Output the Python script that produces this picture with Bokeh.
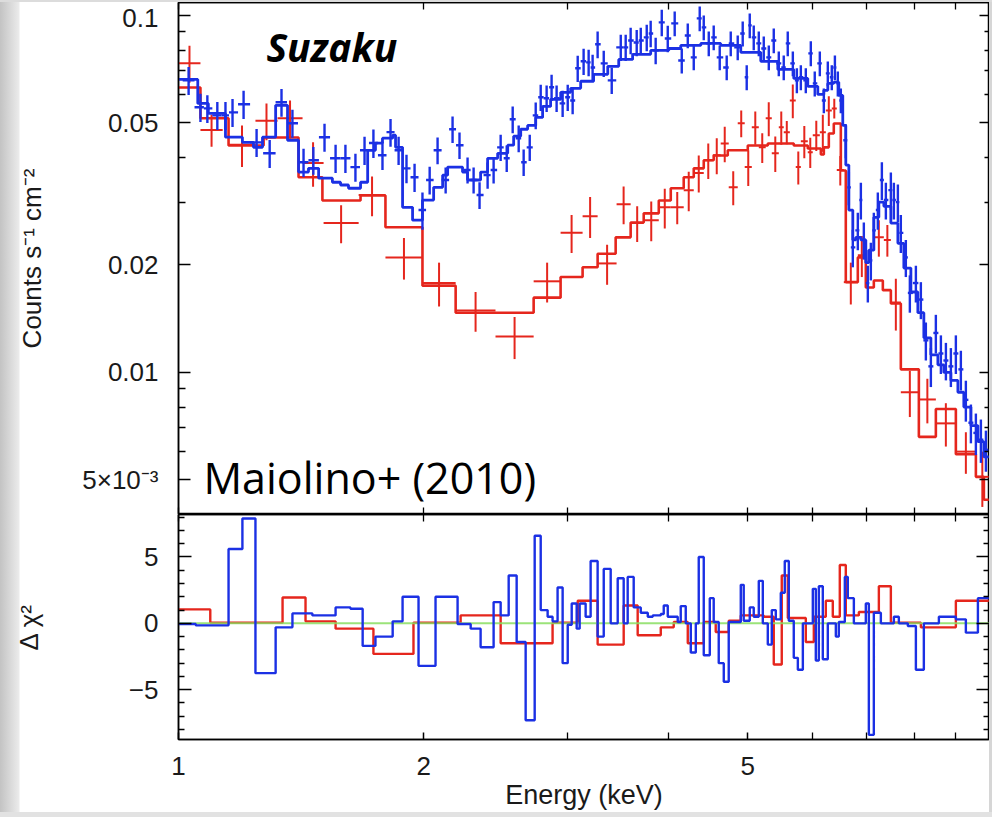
import numpy as np
from bokeh.plotting import figure
from bokeh.models import (Range1d, FixedTicker, LinearAxis, LogAxis, Label,
                          CustomLabelingPolicy)
from bokeh.layouts import column
from bokeh.embed import file_html
from bokeh.resources import INLINE

# ---------------- spectrum data (counts s^-1 cm^-2) ----------------
# XIS-1 (back-illuminated) points: bin edges (keV), flux and 1-sigma error
red_e_lo = [1.000, 1.064, 1.152, 1.243, 1.323, 1.420, 1.507, 1.664, 1.795, 1.993,
            2.189, 2.450, 2.729, 2.945, 3.134, 3.270, 3.450, 3.590, 3.725, 3.887,
            4.021, 4.171, 4.291, 4.414, 4.528, 4.631, 4.737, 4.859, 4.956, 5.056,
            5.157, 5.259, 5.350, 5.457, 5.534, 5.630, 5.725, 5.808, 5.923, 6.007,
            6.128, 6.233, 6.339, 6.429, 6.558, 6.823, 7.139, 7.344, 7.491, 7.705,
            8.108, 8.507, 9.002, 9.526]
red_e_hi = [1.064, 1.133, 1.243, 1.323, 1.420, 1.507, 1.664, 1.795, 1.993, 2.189,
            2.450, 2.729, 2.945, 3.134, 3.270, 3.450, 3.590, 3.725, 3.887, 4.021,
            4.171, 4.291, 4.414, 4.528, 4.631, 4.737, 4.859, 4.956, 5.056, 5.157,
            5.259, 5.350, 5.457, 5.534, 5.630, 5.725, 5.808, 5.923, 6.007, 6.128,
            6.233, 6.339, 6.429, 6.558, 6.823, 6.979, 7.344, 7.491, 7.705, 8.108,
            8.507, 9.002, 9.526, 9.880]
red_flux = [0.0735, 0.0478, 0.0434, 0.0507, 0.0515, 0.0386, 0.0262, 0.0314, 0.0210, 0.0178,
            0.0149, 0.0126, 0.0180, 0.0246, 0.0274, 0.0202, 0.0296, 0.0262, 0.0267, 0.0290,
            0.0290, 0.0324, 0.0362, 0.0393, 0.0406, 0.0438, 0.0330, 0.0499, 0.0376, 0.0486,
            0.0427, 0.0515, 0.0411, 0.0486, 0.0471, 0.0578, 0.0376, 0.0444, 0.0414, 0.0462,
            0.0471, 0.0542, 0.0549, 0.0369, 0.0179, 0.0213, 0.0239, 0.0235, 0.0157, 0.0088,
            0.0084, 0.0072, 0.0060, 0.0051]
red_err = [0.0087, 0.0049, 0.0058, 0.0060, 0.0063, 0.0055, 0.0032, 0.0040, 0.0028, 0.0025,
           0.0019, 0.0017, 0.0023, 0.0030, 0.0036, 0.0026, 0.0036, 0.0030, 0.0034, 0.0037,
           0.0030, 0.0041, 0.0043, 0.0045, 0.0047, 0.0050, 0.0036, 0.0043, 0.0043, 0.0052,
           0.0041, 0.0056, 0.0047, 0.0052, 0.0035, 0.0063, 0.0040, 0.0046, 0.0040, 0.0045,
           0.0056, 0.0052, 0.0035, 0.0035, 0.0024, 0.0028, 0.0028, 0.0024, 0.0026, 0.0013,
           0.0012, 0.0010, 0.0008, 0.0009]

# XIS-FI points: bin centres (keV), flux and 1-sigma error
blue_e = [1.029, 1.064, 1.085, 1.116, 1.142, 1.165, 1.202, 1.247, 1.294, 1.338,
          1.380, 1.424, 1.464, 1.511, 1.559, 1.603, 1.649, 1.692, 1.735, 1.780,
          1.821, 1.863, 1.905, 1.949, 1.993, 2.034,
          2.080, 2.128, 2.170, 2.213, 2.264, 2.303, 2.342, 2.396, 2.437, 2.486,
          2.529, 2.572, 2.616, 2.653, 2.699, 2.745, 2.784, 2.831, 2.871, 2.912,
          2.962, 3.005, 3.047, 3.091, 3.143, 3.188, 3.224, 3.270, 3.327, 3.403,
          3.491, 3.540, 3.590, 3.652, 3.694, 3.757, 3.799, 3.853, 3.920, 3.987,
          4.066, 4.148, 4.219, 4.291, 4.364, 4.414, 4.477, 4.540, 4.618, 4.710,
          4.764, 4.859, 4.928, 4.984, 5.027, 5.084, 5.157, 5.230, 5.305, 5.380,
          5.457, 5.534, 5.597, 5.678, 5.743, 5.808, 5.890, 5.974, 6.041, 6.128,
          6.198, 6.268, 6.339, 6.395, 6.448, 6.503,
          6.595, 6.652, 6.727, 6.823, 6.882, 6.940, 7.019, 7.079, 7.139, 7.220,
          7.303, 7.386, 7.491, 7.555, 7.641, 7.705, 7.815, 7.904, 8.040, 8.154,
          8.270, 8.388, 8.507, 8.629, 8.752, 8.876, 9.002, 9.130, 9.260, 9.393,
          9.526, 9.662, 9.800]
blue_flux = [0.0658, 0.0553, 0.0549, 0.0525, 0.0525, 0.0535, 0.0564, 0.0441, 0.0411, 0.0571,
             0.0499, 0.0388, 0.0393, 0.0456, 0.0398, 0.0398, 0.0376, 0.0419, 0.0439, 0.0406,
             0.0471, 0.0419, 0.0373, 0.0352, 0.0285, 0.0346,
             0.0419, 0.0346, 0.0480, 0.0433, 0.0369, 0.0346, 0.0314, 0.0357, 0.0369, 0.0427,
             0.0398, 0.0512, 0.0453, 0.0388, 0.0427, 0.0525, 0.0590, 0.0586, 0.0629, 0.0586,
             0.0567, 0.0590, 0.0578, 0.0711, 0.0744, 0.0739, 0.0715, 0.0830, 0.0734, 0.0658,
             0.0814, 0.0814, 0.0851, 0.0840, 0.0851, 0.0868, 0.0890, 0.0798, 0.0956, 0.0862,
             0.0950, 0.0748, 0.0879, 0.0763, 0.0981, 0.0926, 0.0835, 0.0868, 0.0763, 0.0715,
             0.0835, 0.0814, 0.0890, 0.0671, 0.0938, 0.0868, 0.0835, 0.0808, 0.0763, 0.0851,
             0.0734, 0.0715, 0.0835, 0.0734, 0.0658, 0.0671, 0.0658, 0.0783, 0.0645, 0.0734,
             0.0578, 0.0688, 0.0671, 0.0715, 0.0645, 0.0578,
             0.0447, 0.0330, 0.0224, 0.0250, 0.0304, 0.0235, 0.0178, 0.0206, 0.0250, 0.0285,
             0.0346, 0.0304, 0.0324, 0.0304, 0.0300, 0.0246, 0.0210, 0.0167, 0.0178, 0.0160,
             0.0123, 0.0104, 0.0129, 0.0113, 0.0108, 0.0104, 0.0113, 0.0102, 0.00838, 0.00723,
             0.00677, 0.00648, 0.00607]
blue_err = [0.0059, 0.0050, 0.0049, 0.0047, 0.0047, 0.0048, 0.0051, 0.0040, 0.0037, 0.0051,
            0.0045, 0.0035, 0.0035, 0.0041, 0.0036, 0.0036, 0.0034, 0.0038, 0.0040, 0.0037,
            0.0042, 0.0038, 0.0034, 0.0032, 0.0034, 0.0031,
            0.0036, 0.0029, 0.0041, 0.0037, 0.0031, 0.0029, 0.0027, 0.0030, 0.0031, 0.0036,
            0.0034, 0.0044, 0.0039, 0.0033, 0.0036, 0.0045, 0.0050, 0.0050, 0.0053, 0.0050,
            0.0048, 0.0050, 0.0049, 0.0060, 0.0063, 0.0063, 0.0061, 0.0071, 0.0062, 0.0056,
            0.0069, 0.0069, 0.0072, 0.0071, 0.0072, 0.0074, 0.0076, 0.0068, 0.0081, 0.0073,
            0.0076, 0.0060, 0.0070, 0.0061, 0.0078, 0.0074, 0.0067, 0.0069, 0.0061, 0.0057,
            0.0067, 0.0065, 0.0071, 0.0054, 0.0075, 0.0069, 0.0067, 0.0065, 0.0061, 0.0068,
            0.0059, 0.0057, 0.0067, 0.0059, 0.0053, 0.0054, 0.0053, 0.0063, 0.0052, 0.0059,
            0.0046, 0.0055, 0.0054, 0.0057, 0.0052, 0.0046,
            0.0049, 0.0036, 0.0027, 0.0030, 0.0036, 0.0028, 0.0021, 0.0025, 0.0030, 0.0034,
            0.0042, 0.0036, 0.0039, 0.0036, 0.0036, 0.0030, 0.0025, 0.0020, 0.0021, 0.0019,
            0.0015, 0.0013, 0.0016, 0.0014, 0.0013, 0.0013, 0.0014, 0.0013, 0.0011, 0.0009,
            0.0009, 0.0009, 0.0008]

# folded best-fit models: histogram edges (keV) and level in each bin
red_model_edges = [1.000, 1.064, 1.152, 1.272, 1.404, 1.502, 1.673, 1.795, 1.993, 2.189,
                   2.450, 2.729, 2.945, 3.134, 3.270, 3.441, 3.590, 3.725, 3.887, 4.021,
                   4.171, 4.291, 4.414, 4.540, 4.724, 4.999, 5.290, 5.488, 5.693, 5.923,
                   6.146, 6.198, 6.286, 6.375, 6.503, 6.595, 6.823, 6.979, 7.139, 7.323,
                   7.491, 7.705, 8.108, 8.507, 9.002, 9.526, 9.744, 9.900]
red_model = [0.0628, 0.0515, 0.0432, 0.0455, 0.0352, 0.0303, 0.0313, 0.0255, 0.0175, 0.0147,
             0.0147, 0.0162, 0.0185, 0.0197, 0.0215, 0.0239, 0.0263, 0.0279, 0.0303, 0.0328,
             0.0352, 0.0373, 0.0393, 0.0405, 0.0419, 0.0432, 0.0438, 0.0438, 0.0432, 0.0424,
             0.0408, 0.0427, 0.0467, 0.0498, 0.0368, 0.0179, 0.0210, 0.0173, 0.0181, 0.0170,
             0.0156, 0.0102, 0.0066, 0.0079, 0.0059, 0.0051, 0.0044]

blue_model_edges = [1.000, 1.056, 1.088, 1.142, 1.198, 1.236, 1.268, 1.316, 1.361, 1.404,
                    1.444, 1.486, 1.545, 1.581, 1.617, 1.673, 1.707, 1.745, 1.780, 1.832,
                    1.847, 1.884, 1.938, 1.993, 2.057, 2.110, 2.140, 2.232, 2.264, 2.349,
                    2.396, 2.465, 2.536, 2.579, 2.631, 2.683, 2.745, 2.799, 2.863, 2.946,
                    3.030, 3.117, 3.233, 3.365, 3.471, 3.610, 3.799, 3.998, 4.136, 4.377,
                    4.631, 4.901, 5.186, 5.442, 5.693, 5.923, 6.093, 6.198, 6.268, 6.375,
                    6.466, 6.539, 6.595, 6.652, 6.727, 6.785, 6.882, 6.979, 7.039, 7.139,
                    7.241, 7.344, 7.491, 7.641, 7.771, 7.927, 8.085, 8.223, 8.388, 8.556,
                    8.701, 8.876, 9.054, 9.207, 9.393, 9.581, 9.744, 9.900]
blue_model = [0.0662, 0.0567, 0.0532, 0.0456, 0.0441, 0.0427, 0.0456, 0.0560, 0.0447, 0.0364,
              0.0373, 0.0350, 0.0341, 0.0335, 0.0328, 0.0341, 0.0419, 0.0439, 0.0453, 0.0462,
              0.0427, 0.0290, 0.0267, 0.0304, 0.0330, 0.0357, 0.0376, 0.0364, 0.0346, 0.0364,
              0.0398, 0.0411, 0.0433, 0.0459, 0.0480, 0.0492, 0.0518, 0.0556, 0.0582, 0.0609,
              0.0625, 0.0654, 0.0684, 0.0720, 0.0753, 0.0778, 0.0798, 0.0808, 0.0824, 0.0835,
              0.0824, 0.0788, 0.0744, 0.0706, 0.0666, 0.0633, 0.0601, 0.0617, 0.0645, 0.0650,
              0.0597, 0.0492, 0.0381, 0.0285, 0.0235, 0.0239, 0.0235, 0.0203, 0.0220, 0.0272,
              0.0300, 0.0292, 0.0262, 0.0230, 0.0196, 0.0168, 0.0147, 0.0125, 0.0112, 0.0105,
              0.0100, 0.0095, 0.0088, 0.0080, 0.0071, 0.0064, 0.0058]

# ---------------- residuals (signed delta chi^2 per bin) ----------------
red_res_edges = [1.000, 1.094, 1.342, 1.432, 1.559, 1.735, 1.943, 2.220, 2.486, 2.879,
                 3.091, 3.270, 3.520, 3.662, 3.909, 4.055, 4.219, 4.414, 4.566, 4.737,
                 4.901, 5.230, 5.380, 5.503, 5.598, 5.890, 6.025, 6.233, 6.357, 6.484,
                 6.595, 6.843, 7.241, 7.491, 8.154, 9.002, 9.900]
red_res = [1.05, 0.05, 1.95, 0.15, -0.4, -2.3, 0.05, 0.6, -1.5, 0.05,
           1.7, -1.6, 1.35, -0.9, -0.3, 0.1, -1.5, 0.1, -0.65, 0.2,
           0.6, 0.5, -3.1, 3.6, 0.4, -1.4, 0.5, 1.7, 0.5, 4.4,
           0.6, 0.85, 2.8, 0.05, -0.3, 1.7]

blue_res_edges = [1.000, 1.050, 1.152, 1.198, 1.243, 1.316, 1.380, 1.460, 1.559, 1.626,
                  1.683, 1.745, 1.832, 1.884, 1.971, 2.068, 2.201, 2.284, 2.349, 2.437,
                  2.486, 2.543, 2.601, 2.668, 2.737, 2.784, 2.839, 2.879, 2.920, 2.962,
                  3.005, 3.039, 3.082, 3.108, 3.161, 3.206, 3.270, 3.327, 3.393, 3.461,
                  3.520, 3.560, 3.621, 3.694, 3.768, 3.821, 3.909, 3.942, 3.987, 4.101,
                  4.136, 4.195, 4.255, 4.316, 4.352, 4.414, 4.490, 4.540, 4.605, 4.671,
                  4.737, 4.901, 4.942, 5.027, 5.084, 5.157, 5.216, 5.290, 5.350, 5.411,
                  5.488, 5.550, 5.614, 5.693, 5.759, 5.841, 6.008, 6.059, 6.111, 6.180,
                  6.268, 6.412, 6.466, 6.577, 6.633, 6.747, 6.979, 7.039, 7.139, 7.282,
                  7.555, 7.662, 7.859, 8.040, 8.223, 8.580, 9.002, 9.260, 9.581, 9.900]
blue_res = [-0.05, -0.15, 5.6, 7.9, -3.75, -0.3, 0.75, 0.6, 1.2, 1.1,
            -1.7, -1.0, 0.15, 2.0, -3.2, 2.0, -0.05, -0.4, -1.8, 1.6,
            0.6, 3.6, -1.4, -7.3, 6.6, 1.0, 0.5, 0.15, 2.7, -3.0,
            -0.1, 1.5, -0.4, 1.5, 0.5, 4.7, -1.0, 4.1, 0.0, 3.4,
            0.0, 3.5, 1.2, 0.8, 0.5, 0.6, 0.7, 1.35, 0.5, 0.1,
            1.3, 0.0, -2.2, 0.0, 5.0, -2.4, 1.9, 0.1, -3.0, -4.4,
            0.1, 2.9, 0.2, 1.2, 0.5, 3.2, 0.0, -1.6, 1.0, 0.3,
            2.3, 4.7, 0.2, -2.6, -3.5, 0.0, 2.6, -2.8, 2.8, -2.7,
            0.0, -1.0, 0.1, 3.5, 1.9, 0.0, 1.5, -8.4, 0.8, 0.0,
            0.5, 0.0, -0.2, -3.5, 0.0, 0.5, 0.3, -0.7, 1.9]

# ---------------- axis ticks ----------------
energy_labelled = [1, 2, 5]
energy_other = [3, 4, 6, 7, 8, 9]
flux_ticks = [0.005, 0.01, 0.02, 0.05, 0.1]
flux_minor = [0.004, 0.006, 0.007, 0.008, 0.009, 0.03, 0.04, 0.06, 0.07, 0.08, 0.09]
flux_labels = {0.005: "5×10⁻³", 0.01: "0.01", 0.02: "0.02", 0.05: "0.05", 0.1: "0.1"}
res_ticks = [-5, 0, 5]
res_minor = [-8, -7, -6, -4, -3, -2, -1, 1, 2, 3, 4, 6, 7, 8]
res_labels = {-5: "−5", 0: "0", 5: "5"}

RED = "#e5261d"
BLUE = "#1b30e4"
GREEN = "#8ade62"
FONT = "Liberation Sans"
INK = "#1a1a1a"
TICK_FONT = "26px"

x_rng = Range1d(1.0, 9.9)


def styled_axis(axis, show_labels, tick_in, minor_in):
    axis.axis_line_color = "black"
    axis.axis_line_width = 1.5
    axis.major_tick_line_color = "black"
    axis.major_tick_line_width = 1.5
    axis.minor_tick_line_color = "black"
    axis.minor_tick_line_width = 1.3
    axis.major_tick_in = tick_in
    axis.major_tick_out = 0
    axis.minor_tick_in = minor_in
    axis.minor_tick_out = 0
    axis.major_label_text_font = FONT
    axis.major_label_text_color = INK
    axis.axis_label_text_font = FONT
    axis.axis_label_text_color = INK
    axis.axis_label_text_font_style = "normal"
    if show_labels:
        axis.major_label_text_font_size = TICK_FONT
        axis.major_label_standoff = 20
    else:
        # tick marks only: the labelling policy drops every label
        axis.major_label_text_font_size = "0px"
        axis.major_label_standoff = 0
        axis.major_label_policy = CustomLabelingPolicy(
            code="for (const i of indices) { indices.unset(i) }\nreturn indices")
    return axis


def energy_axis(show_labels):
    if show_labels:
        ticker = FixedTicker(ticks=energy_labelled, minor_ticks=energy_other)
    else:
        ticker = FixedTicker(ticks=[], minor_ticks=energy_labelled + energy_other)
    return styled_axis(LogAxis(ticker=ticker), show_labels, 7, 7)


def step_xy(edges, levels):
    return list(edges), list(levels) + [levels[-1]]


# ---------------- spectrum panel ----------------
top = figure(width=989, height=512, x_axis_type="log", y_axis_type="log",
             x_range=x_rng, y_range=Range1d(0.004, 0.1087),
             x_axis_location=None, y_axis_location=None,
             output_backend="svg", toolbar_location=None,
             min_border_left=178, min_border_right=0, min_border_top=0, min_border_bottom=0,
             margin=(2, 3, 0, 0), border_fill_color=None, background_fill_color="white",
             outline_line_color="black", outline_line_width=1.5)

for side, lab in (("left", True), ("right", False)):
    ax = LogAxis(ticker=FixedTicker(ticks=flux_ticks, minor_ticks=flux_minor))
    if lab:
        ax.major_label_overrides = flux_labels
        ax.axis_label = "Counts s⁻¹ cm⁻²"
        ax.axis_label_text_font_size = "26px"
        ax.axis_label_standoff = 32
    styled_axis(ax, lab, 12 if lab else 10, 7 if lab else 5)
    top.add_layout(ax, side)
top.add_layout(energy_axis(False), "above")
top.add_layout(energy_axis(False), "below")

# models
xs, ys = step_xy(red_model_edges, red_model)
top.step(xs, ys, mode="after", line_color=RED, line_width=2.6)

# XIS-1 crosses
rlo, rhi = np.array(red_e_lo), np.array(red_e_hi)
rf, rs = np.array(red_flux), np.array(red_err)
rmid = np.sqrt(rlo * rhi)
top.segment(rlo, rf, rhi, rf, line_color=RED, line_width=2)
top.segment(rmid, rf - rs, rmid, rf + rs, line_color=RED, line_width=2)

xs, ys = step_xy(blue_model_edges, blue_model)
top.step(xs, ys, mode="after", line_color=BLUE, line_width=2.8)

# XIS-FI crosses (contiguous bins around each centre)
be = np.array(blue_e)
bf, bs = np.array(blue_flux), np.array(blue_err)
bmid = np.sqrt(be[:-1] * be[1:])
blo = np.concatenate([[be[0] ** 2 / bmid[0]], bmid])
bhi = np.concatenate([bmid, [be[-1] ** 2 / bmid[-1]]])
top.segment(blo, bf, bhi, bf, line_color=BLUE, line_width=2.4)
top.segment(be, bf - bs, be, bf + bs, line_color=BLUE, line_width=2.4)

top.add_layout(Label(x=1.282, y=0.0819, text="Suzaku", text_font="Open Sans",
                     text_font_style="bold italic", text_font_size="39px",
                     text_color="black", text_baseline="alphabetic", text_align="left"))
top.add_layout(Label(x=1.073, y=0.00508, text="Maiolino+ (2010)", text_font="Open Sans",
                     text_font_size="43px", text_color="black",
                     text_baseline="alphabetic", text_align="left"))

# ---------------- residual panel ----------------
bot = figure(width=989, height=298, x_axis_type="log",
             x_range=x_rng, y_range=Range1d(-8.75, 8.2),
             x_axis_location=None, y_axis_location=None,
             output_backend="svg", toolbar_location=None,
             min_border_left=178, min_border_right=0, min_border_top=0, min_border_bottom=73,
             margin=(0, 3, 5, 0), border_fill_color=None, background_fill_color="white",
             outline_line_color="black", outline_line_width=1.5)

for side, lab in (("left", True), ("right", False)):
    ax = LinearAxis(ticker=FixedTicker(ticks=res_ticks, minor_ticks=res_minor))
    if lab:
        ax.major_label_overrides = res_labels
        ax.axis_label = "Δ χ²"
        ax.axis_label_text_font_size = "26px"
        ax.axis_label_standoff = 82
    styled_axis(ax, lab, 13, 6)
    bot.add_layout(ax, side)
bot.add_layout(energy_axis(False), "above")
xb = energy_axis(True)
xb.major_label_standoff = 17
xb.axis_label = "Energy (keV)"
xb.axis_label_text_font_size = "27px"
xb.axis_label_standoff = 2
bot.add_layout(xb, "below")

xs, ys = step_xy(red_res_edges, red_res)
bot.step(xs, ys, mode="after", line_color=RED, line_width=2.4)
bot.line([1.0, 9.9], [0, 0], line_color=GREEN, line_width=2, line_alpha=0.85)
xs, ys = step_xy(blue_res_edges, blue_res)
bot.step(xs, ys, mode="after", line_color=BLUE, line_width=2.4)

for f in (top, bot):
    f.grid.visible = False

# slide backdrop: grey strips around a white card
backdrop = ", ".join([
    "linear-gradient(to bottom, #dcdcdc 0px, #dcdcdc 2px, rgba(0,0,0,0) 2px)",
    "linear-gradient(to bottom, rgba(0,0,0,0) 812px, #e2e2e2 812px)",
    "linear-gradient(to right, #c3c3c3 0px, #ebebeb 19px, #ffffff 20px, #ffffff 989px, #d6d6d6 989px)",
])
page = column(top, bot, spacing=0, styles={"background": backdrop})

open("out.html", "w").write(file_html(page, INLINE))
